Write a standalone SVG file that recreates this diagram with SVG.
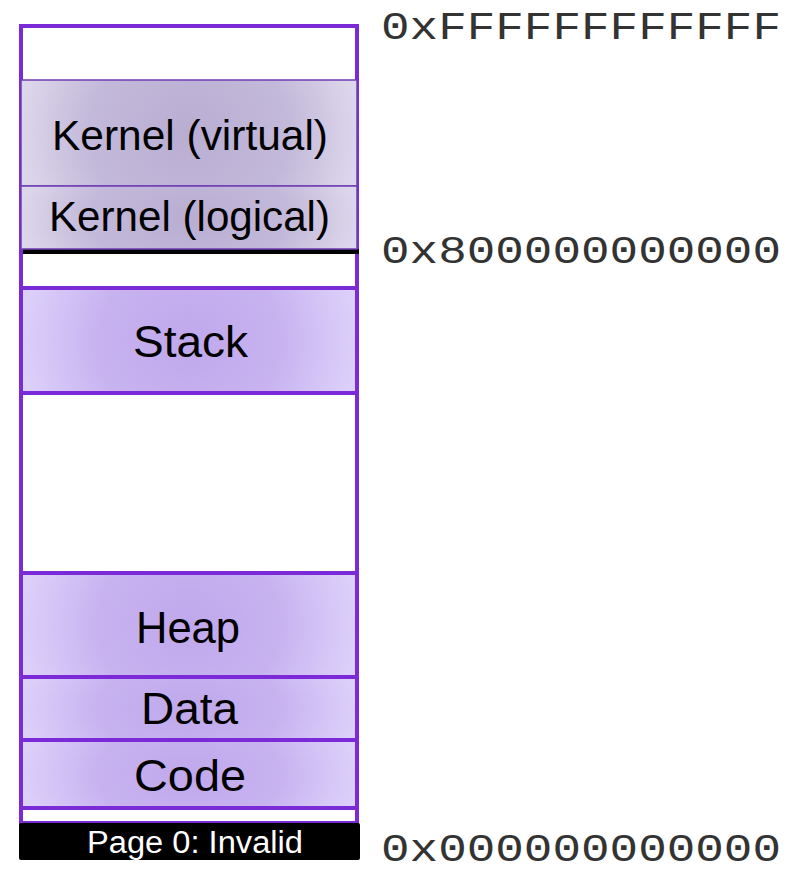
<svg xmlns="http://www.w3.org/2000/svg" width="790" height="873" viewBox="0 0 790 873">
<defs>
<radialGradient id="seg" cx="0.5" cy="0.5" r="0.5" gradientTransform="translate(0.5 0.5) scale(1 3) translate(-0.5 -0.5)">
<stop offset="0" stop-color="#C0A8EC"/>
<stop offset="0.55" stop-color="#C8B3F0"/>
<stop offset="1" stop-color="#DCD0FA"/>
</radialGradient>
<radialGradient id="kern" cx="0.5" cy="0.5" r="0.5" gradientTransform="translate(0.5 0.5) scale(1 3) translate(-0.5 -0.5)">
<stop offset="0" stop-color="#B9AED2"/>
<stop offset="0.6" stop-color="#C3B9DA"/>
<stop offset="1" stop-color="#DCD6EA"/>
</radialGradient>
<filter id="blur" filterUnits="userSpaceOnUse" x="10" y="240" width="360" height="25">
<feGaussianBlur stdDeviation="0.6"/>
</filter>
</defs>
<style>
.box{stroke:#7B2AD8;stroke-width:4}
.seg{fill:url(#seg)}
.kbox{fill:url(#kern);stroke:#6F3DB5;stroke-width:1.5}
.lbl{font-family:"Liberation Sans",Arial,sans-serif;fill:#000;text-anchor:start}
.addr{font-family:"Liberation Mono","Courier New",monospace;font-size:39px;fill:#333}
</style>
<g id="outer">
<rect class="box" x="21" y="26" width="336" height="797" fill="#FFFFFF"/>
</g>
<g id="kernel-virtual">
<rect class="kbox" x="21" y="80" width="336" height="106"/>
<text class="lbl" x="52" y="150" font-size="42" textLength="276" lengthAdjust="spacingAndGlyphs">Kernel (virtual)</text>
</g>
<g id="kernel-logical">
<rect x="23" y="249" width="336" height="5" fill="#000" filter="url(#blur)"/>
<rect class="kbox" x="21" y="186" width="336" height="63"/>
<text class="lbl" x="49" y="231" font-size="42" textLength="281" lengthAdjust="spacingAndGlyphs">Kernel (logical)</text>
</g>
<g id="stack">
<rect class="box seg" x="21" y="288" width="336" height="105"/>
<text class="lbl" x="133" y="357" font-size="45" textLength="115" lengthAdjust="spacingAndGlyphs">Stack</text>
</g>
<g id="heap">
<rect class="box seg" x="21" y="573" width="336" height="104"/>
<text class="lbl" x="136" y="643" font-size="45" textLength="104" lengthAdjust="spacingAndGlyphs">Heap</text>
</g>
<g id="data">
<rect class="box seg" x="21" y="677" width="336" height="63"/>
<text class="lbl" x="141" y="724" font-size="45" textLength="97" lengthAdjust="spacingAndGlyphs">Data</text>
</g>
<g id="code">
<rect class="box seg" x="21" y="740" width="336" height="68"/>
<text class="lbl" x="134" y="791" font-size="45" textLength="112" lengthAdjust="spacingAndGlyphs">Code</text>
</g>
<g id="page0">
<rect x="19" y="823" width="341" height="37" rx="2" fill="#000"/>
<text x="87" y="853" font-family="'Liberation Sans',Arial,sans-serif" font-size="31" fill="#FFFFFF" textLength="216" lengthAdjust="spacingAndGlyphs">Page 0: Invalid</text>
</g>
<g id="addresses">
<text class="addr" x="381" y="39" textLength="400" lengthAdjust="spacingAndGlyphs">0xFFFFFFFFFFFF</text>
<text class="addr" x="381" y="263" textLength="400" lengthAdjust="spacingAndGlyphs">0x800000000000</text>
<text class="addr" x="381" y="861" textLength="400" lengthAdjust="spacingAndGlyphs">0x000000000000</text>
</g>
</svg>
